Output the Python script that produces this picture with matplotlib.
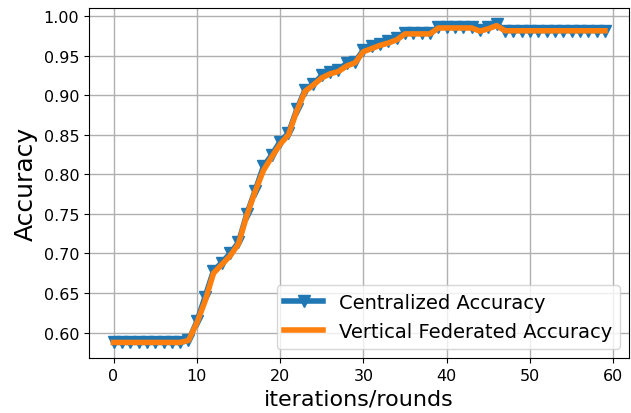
import matplotlib
matplotlib.use("Agg")
import matplotlib.pyplot as plt
import numpy as np

rounds = np.arange(60)

centralized_acc = [0.5875] * 9 + [
    0.590, 0.614, 0.6455, 0.678, 0.6885, 0.700, 0.714, 0.750, 0.7795, 0.810,
    0.8247, 0.8415, 0.852, 0.882, 0.907, 0.914, 0.925, 0.929, 0.932, 0.9406,
    0.9426, 0.957, 0.9616, 0.965, 0.9688, 0.972, 0.9785, 0.9785, 0.9785, 0.9785,
    0.986, 0.986, 0.986, 0.986, 0.986, 0.983, 0.986, 0.990] + [0.9818] * 13

vertical_acc = [0.5875] * 9 + [
    0.590, 0.612, 0.640, 0.675, 0.686, 0.697, 0.712, 0.748, 0.778, 0.805,
    0.822, 0.838, 0.850, 0.880, 0.905, 0.913, 0.922, 0.927, 0.930, 0.937,
    0.941, 0.955, 0.959, 0.963, 0.966, 0.970, 0.9775, 0.9775, 0.9775, 0.9775,
    0.985, 0.985, 0.985, 0.985, 0.985, 0.981, 0.984, 0.988] + [0.9815] * 13

fig = plt.figure(figsize=(6.31, 4.14), dpi=100)
ax = fig.add_axes([0.141, 0.132, 0.8566, 0.846])

ax.plot(rounds, centralized_acc, color="#1f77b4", marker="v", markersize=9,
        linewidth=4, label="Centralized Accuracy")
ax.plot(rounds, vertical_acc, color="#ff7f0e", linewidth=4,
        label="Vertical Federated Accuracy")

ax.set_xlabel("iterations/rounds", fontsize=16)
ax.set_ylabel("Accuracy", fontsize=18)
ax.tick_params(labelsize=11.5)
ax.grid(True, color="#b0b0b0", linewidth=1.0)
ax.legend(loc="lower right", fontsize=14)

fig.savefig("out.png", dpi=100)
